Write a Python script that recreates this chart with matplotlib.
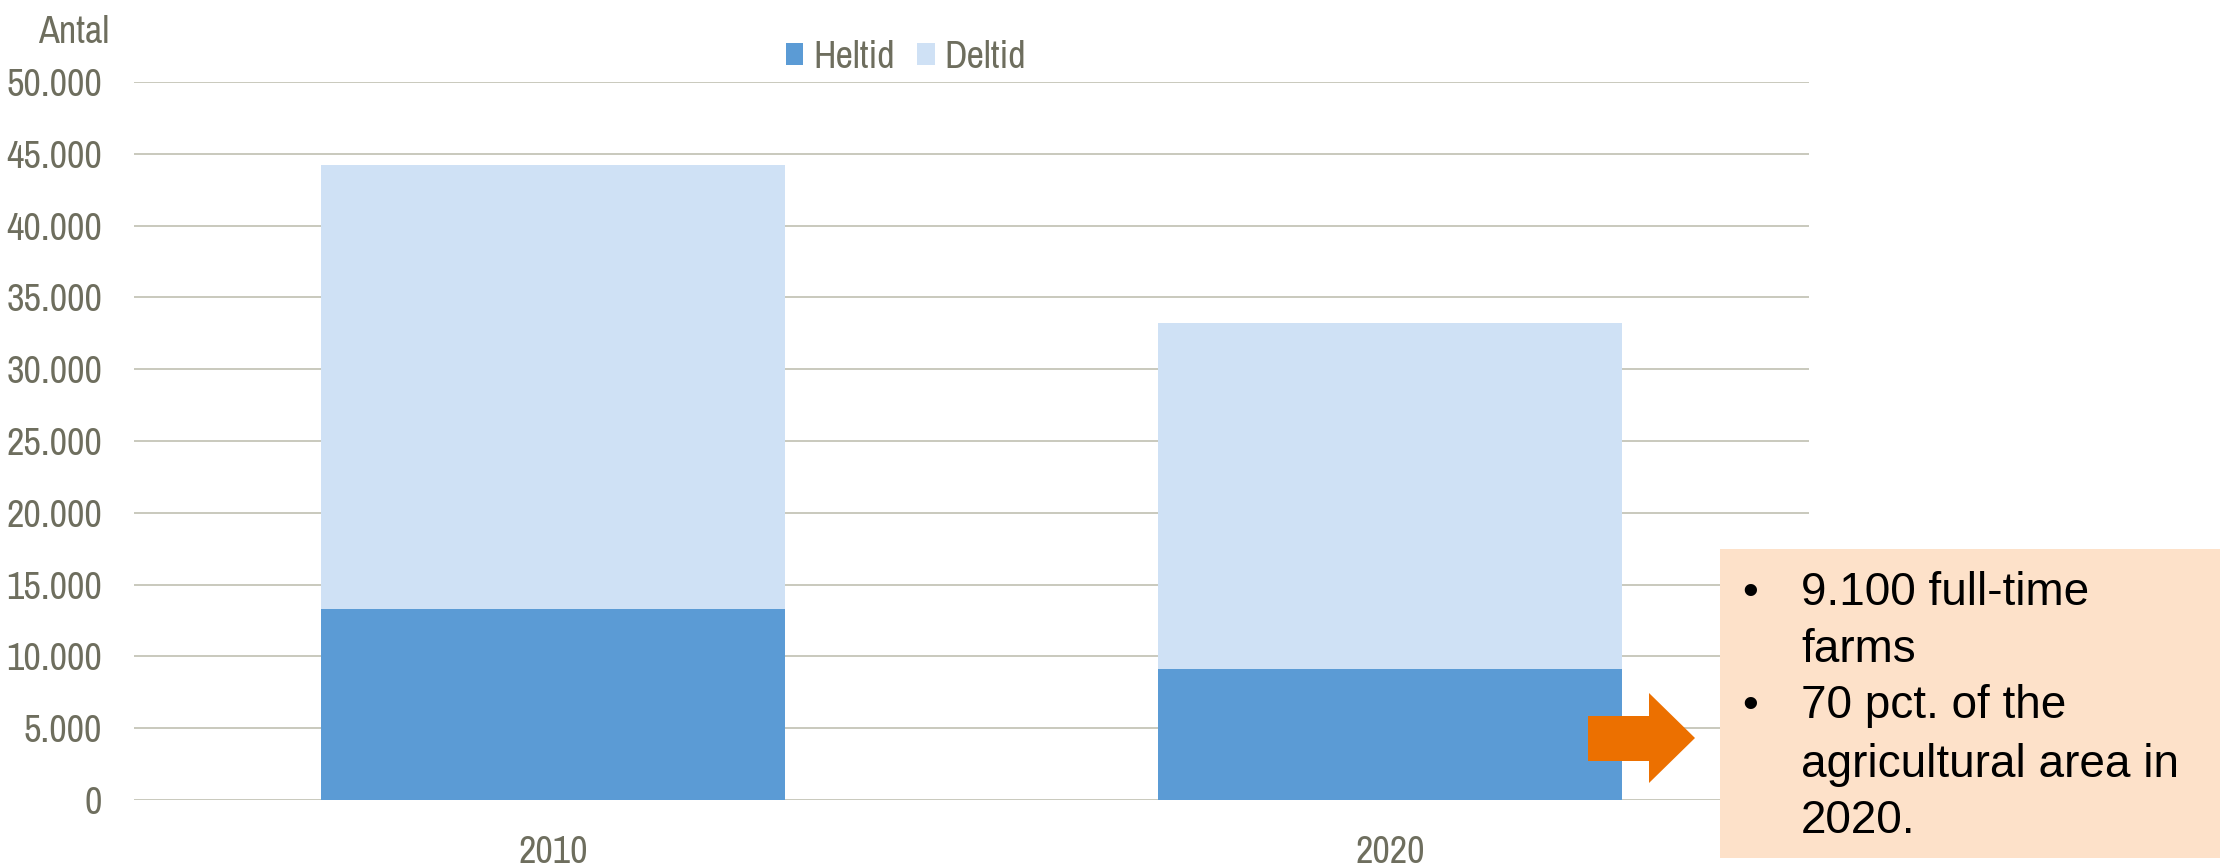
import matplotlib
matplotlib.use('Agg')
import matplotlib.pyplot as plt
from matplotlib import font_manager as fm
from matplotlib.patches import Rectangle, Polygon
import numpy as np

# Data
years = ['2010', '2020']
heltid = [13300, 9100]
deltid = [30900, 24100]   # stacked on top of heltid
y_ticks = [0, 5000, 10000, 15000, 20000, 25000, 30000, 35000, 40000, 45000, 50000]
box_lines = ['9.100 full-time', 'farms', '70 pct. of the', 'agricultural area in', '2020.']
box_bullets = [True, False, True, False, False]

W, H = 2220, 866
grey = '#6e6e5e'
grid_col = '#c9c9bd'
c_heltid = '#5b9bd5'
c_deltid = '#cfe1f5'
plain = ['Liberation Sans', 'DejaVu Sans']


def find_narrow():
    # look for a condensed sans face, the original uses Arial Narrow
    best = None
    for f in fm.fontManager.ttflist:
        nm = f.name.lower()
        cond = ('narrow' in nm or 'condensed' in nm or
                str(f.stretch) in ('condensed', 'semi-condensed', '75', '87'))
        if not cond or f.style != 'normal':
            continue
        if f.weight not in (400, 'normal', 'regular', 'book'):
            continue
        rank = 0 if 'narrow' in nm else 1 if 'roboto' in nm else 2
        if best is None or rank < best[0]:
            best = (rank, f.fname)
    return best[1] if best else None


nf = find_narrow()
if nf:
    tick_font = fm.FontProperties(fname=nf, size=27.5)
else:
    tick_font = fm.FontProperties(family='Liberation Sans', size=23)


def fx(px):
    return px / W


def fy(py):
    return 1 - py / H


fig = plt.figure(figsize=(W / 100, H / 100), dpi=100)
ax = fig.add_axes([fx(134), fy(800), fx(1809) - fx(134), fy(82) - fy(800)])

x = np.arange(len(years))
ax.bar(x, heltid, width=0.554, color=c_heltid, label='Heltid', zorder=3)
ax.bar(x, deltid, width=0.554, bottom=heltid, color=c_deltid, label='Deltid', zorder=3)

ax.set_xlim(-0.5, 1.5)
ax.set_ylim(0, 50000)
ax.set_yticks(y_ticks)
ax.set_yticklabels(['{:,}'.format(v).replace(',', '.') for v in y_ticks])
ax.set_xticks(x)
ax.set_xticklabels(years)

for lab in ax.get_xticklabels() + ax.get_yticklabels():
    lab.set_fontproperties(tick_font)
    lab.set_color(grey)
ax.tick_params(axis='y', length=0, pad=23)
ax.tick_params(axis='x', length=0, pad=25)

ax.yaxis.grid(True, color=grid_col, linewidth=1.4, zorder=0)
ax.set_axisbelow(True)
for s in ax.spines.values():
    s.set_visible(False)

fig.text(fx(109), fy(43), 'Antal', ha='right', va='baseline',
         fontproperties=tick_font, color=grey)

leg = fig.legend(loc='center', bbox_to_anchor=(fx(906), fy(57)), ncol=2, frameon=False,
                 prop=tick_font,
                 handlelength=0.45, handleheight=0.5, handletextpad=0.25,
                 columnspacing=0.6, borderaxespad=0)
for t in leg.get_texts():
    t.set_color(grey)

# orange arrow pointing at the annotation box
arrow = Polygon([(fx(1588), fy(716)), (fx(1649), fy(716)), (fx(1649), fy(693)),
                 (fx(1695), fy(738)), (fx(1649), fy(783)), (fx(1649), fy(761)),
                 (fx(1588), fy(761))], closed=True, transform=fig.transFigure,
                facecolor='#ec7000', edgecolor='none', zorder=5)
fig.patches.append(arrow)

# annotation box
box = Rectangle((fx(1720), fy(858)), fx(W) - fx(1720), fy(549) - fy(858),
                transform=fig.transFigure, facecolor='#fde1c9', edgecolor='none', zorder=5)
fig.patches.append(box)

baselines = [605, 662, 718, 777, 833]
for line, bul, by in zip(box_lines, box_bullets, baselines):
    if bul:
        fig.text(fx(1742), fy(by), '\u2022', ha='left', va='baseline',
                 family=plain, fontsize=32.5, color='black', zorder=6)
    fig.text(fx(1801), fy(by), line, ha='left', va='baseline',
             family=plain, fontsize=33, color='black', zorder=6)

fig.savefig('out.png', dpi=100)
